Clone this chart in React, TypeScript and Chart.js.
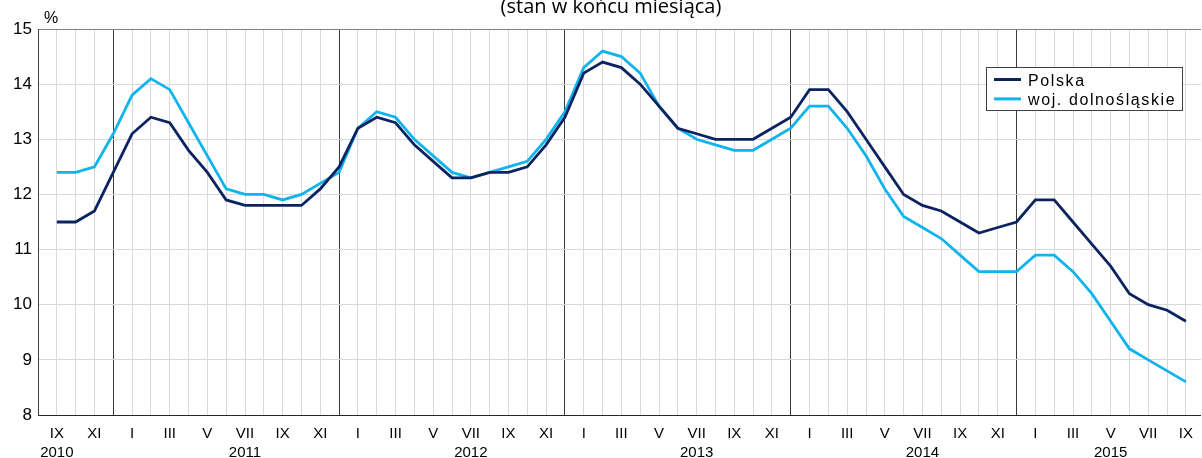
import React, { useEffect, useRef } from 'react';
import { Chart, registerables } from 'chart.js';

Chart.register(...registerables);

// ---- data ----
const monthLabels = [
  'IX', 'X', 'XI', 'XII',
  'I', 'II', 'III', 'IV', 'V', 'VI', 'VII', 'VIII', 'IX', 'X', 'XI', 'XII',
  'I', 'II', 'III', 'IV', 'V', 'VI', 'VII', 'VIII', 'IX', 'X', 'XI', 'XII',
  'I', 'II', 'III', 'IV', 'V', 'VI', 'VII', 'VIII', 'IX', 'X', 'XI', 'XII',
  'I', 'II', 'III', 'IV', 'V', 'VI', 'VII', 'VIII', 'IX', 'X', 'XI', 'XII',
  'I', 'II', 'III', 'IV', 'V', 'VI', 'VII', 'VIII', 'IX',
];
const yearLabels = ['2010', '2011', '2012', '2013', '2014', '2015'];
const yearLabelMonths = ['IX', 'VII', 'VII', 'VII', 'VII', 'V'];

const polska = [
  11.5, 11.5, 11.7, 12.4,
  13.1, 13.4, 13.3, 12.8, 12.4, 11.9, 11.8, 11.8, 11.8, 11.8, 12.1, 12.5,
  13.2, 13.4, 13.3, 12.9, 12.6, 12.3, 12.3, 12.4, 12.4, 12.5, 12.9, 13.4,
  14.2, 14.4, 14.3, 14.0, 13.6, 13.2, 13.1, 13.0, 13.0, 13.0, 13.2, 13.4,
  13.9, 13.9, 13.5, 13.0, 12.5, 12.0, 11.8, 11.7, 11.5, 11.3, 11.4, 11.5,
  11.9, 11.9, 11.5, 11.1, 10.7, 10.2, 10.0, 9.9, 9.7,
];
const dolnoslaskie = [
  12.4, 12.4, 12.5, 13.1,
  13.8, 14.1, 13.9, 13.3, 12.7, 12.1, 12.0, 12.0, 11.9, 12.0, 12.2, 12.4,
  13.2, 13.5, 13.4, 13.0, 12.7, 12.4, 12.3, 12.4, 12.5, 12.6, 13.0, 13.5,
  14.3, 14.6, 14.5, 14.2, 13.6, 13.2, 13.0, 12.9, 12.8, 12.8, 13.0, 13.2,
  13.6, 13.6, 13.2, 12.7, 12.1, 11.6, 11.4, 11.2, 10.9, 10.6, 10.6, 10.6,
  10.9, 10.9, 10.6, 10.2, 9.7, 9.2, 9.0, 8.8, 8.6,
];
const seriesNames = ['Polska', 'woj. dolnośląskie'];
const seriesColors = ['#0b2461', '#0fb3ee'];
const yMin = 8;
const yMax = 15;
const titleText = '(stan w końcu miesiąca)';
const unitText = '%';

// year for each month index
const yearOfIndex: number[] = [];
{
  let y = 0;
  monthLabels.forEach((m, i) => {
    if (m === 'I' && i > 0) y += 1;
    yearOfIndex.push(y);
  });
}
const yearLabelAt: Record<number, string> = {};
yearLabels.forEach((yl, yi) => {
  const idx = monthLabels.findIndex((m, i) => yearOfIndex[i] === yi && m === yearLabelMonths[yi]);
  if (idx >= 0) yearLabelAt[idx] = yl;
});

const FONT = "'Liberation Sans', Arial, sans-serif";

const overlayPlugin = {
  id: 'overlay',
  afterDraw(chart: any) {
    const ctx = chart.ctx as CanvasRenderingContext2D;
    ctx.save();
    // title (partially cut at top)
    ctx.fillStyle = '#000';
    ctx.font = "20px 'Open Sans', sans-serif";
    ctx.textAlign = 'center';
    ctx.textBaseline = 'alphabetic';
    ctx.fillText(titleText, 611, 13);
    // unit
    ctx.font = `16px ${FONT}`;
    ctx.textAlign = 'left';
    ctx.fillText(unitText, 44, 23);
    // legend
    const bx = 986.5, by = 67.5, bw = 196, bh = 43;
    ctx.fillStyle = '#fff';
    ctx.fillRect(bx, by, bw, bh);
    ctx.strokeStyle = '#404040';
    ctx.lineWidth = 1;
    ctx.strokeRect(bx, by, bw, bh);
    (ctx as any).letterSpacing = '1.6px';
    ctx.font = `16px ${FONT}`;
    seriesNames.forEach((name, i) => {
      const ly = 79.5 + i * 19.4;
      ctx.strokeStyle = seriesColors[i];
      ctx.lineWidth = 3;
      ctx.beginPath();
      ctx.moveTo(994, ly);
      ctx.lineTo(1021, ly);
      ctx.stroke();
      ctx.fillStyle = '#000';
      ctx.textBaseline = 'alphabetic';
      ctx.fillText(name, 1028, 86 + i * 19.4);
    });
    ctx.restore();
  },
};

export default function App() {
  const ref = useRef<HTMLCanvasElement | null>(null);
  useEffect(() => {
    if (!ref.current) return;
    const toPts = (arr: number[]) => arr.map((v, i) => ({ x: i, y: v }));
    const chart = new Chart(ref.current, {
      type: 'line',
      data: {
        datasets: [
          {
            label: seriesNames[0],
            data: toPts(polska),
            borderColor: seriesColors[0],
            borderWidth: 2.8,
            pointRadius: 0,
            tension: 0,
            fill: false,
          },
          {
            label: seriesNames[1],
            data: toPts(dolnoslaskie),
            borderColor: seriesColors[1],
            borderWidth: 2.8,
            pointRadius: 0,
            tension: 0,
            fill: false,
          },
        ],
      },
      options: {
        animation: false,
        responsive: false,
        events: [],
        layout: { padding: { top: 29, left: 0, right: 0, bottom: 0 } },
        plugins: {
          legend: { display: false },
          tooltip: { enabled: false },
          title: { display: false },
        },
        scales: {
          x: {
            type: 'linear',
            min: -1,
            max: 60.8,
            afterFit(scale: any) {
              scale.height = 43;
            },
            border: { display: true, color: '#262626', width: 1 },
            grid: {
              drawTicks: false,
              lineWidth: 1,
              color: (c: any) => {
                const v = c.tick ? c.tick.value : 0;
                if (Number.isInteger(v) && v >= 0 && v < monthLabels.length && monthLabels[v] === 'XII') return '#3a3a3a';
                return '#d9d9d9';
              },
            },
            ticks: {
              stepSize: 1,
              autoSkip: false,
              maxRotation: 0,
              includeBounds: false,
              padding: 9,
              color: '#000',
              font: { family: FONT, size: 15, lineHeight: 1.3 },
              callback: (value: any) => {
                const v = Number(value);
                if (!Number.isInteger(v) || v < 0 || v >= monthLabels.length) return '';
                if (v % 2 !== 0) return '';
                const m = monthLabels[v];
                if (yearLabelAt[v]) return [m, yearLabelAt[v]];
                return m;
              },
            },
          },
          y: {
            min: yMin,
            max: yMax,
            afterFit(scale: any) {
              scale.width = 38;
            },
            border: { display: true, color: '#404040', width: 1 },
            grid: {
              drawTicks: false,
              lineWidth: 1,
              color: (c: any) => (c.tick && c.tick.value === yMax ? '#808080' : '#d9d9d9'),
            },
            ticks: {
              stepSize: 1,
              padding: 6,
              color: '#000',
              font: { family: FONT, size: 17 },
            },
          },
        },
      },
      plugins: [overlayPlugin],
    } as any);
    return () => chart.destroy();
  }, []);

  return (
    <div style={{ position: 'fixed', left: 0, top: 0, width: 1202, height: 458, overflow: 'hidden', background: '#fff' }}>
      <canvas ref={ref} width={1202} height={458} style={{ display: 'block' }} />
    </div>
  );
}
